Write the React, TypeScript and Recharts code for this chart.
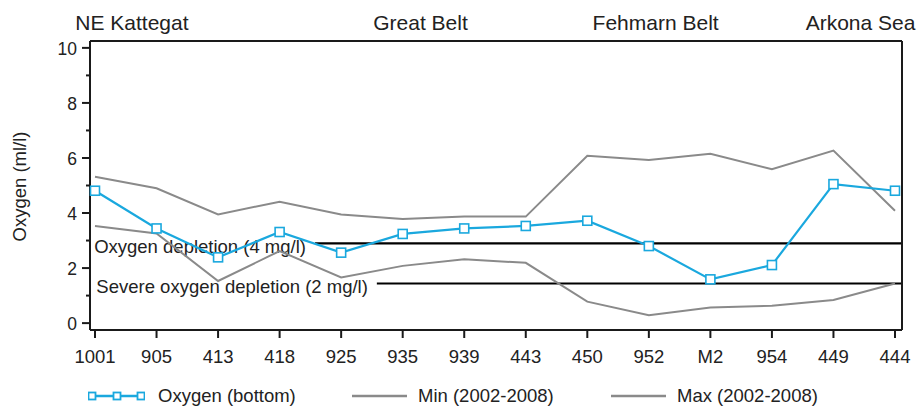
import React from "react"
import {
  LineChart,
  Line,
  XAxis,
  YAxis,
  ReferenceLine,
  Legend,
} from "recharts"

// Bottom oxygen along the transect, with the 2002-2008 min / max envelope

const stations = ["1001", "905", "413", "418", "925", "935", "939", "443", "450", "952", "M2", "954", "449", "444"]
const oxygenBottom = [4.81, 3.44, 2.39, 3.31, 2.56, 3.24, 3.44, 3.53, 3.72, 2.8, 1.59, 2.11, 5.05, 4.81]
const minOxygen = [3.53, 3.26, 1.53, 2.62, 1.66, 2.08, 2.32, 2.19, 0.78, 0.29, 0.57, 0.63, 0.84, 1.44]
const maxOxygen = [5.32, 4.9, 3.95, 4.41, 3.95, 3.78, 3.87, 3.87, 6.08, 5.93, 6.15, 5.59, 6.27, 4.08]

// region names, placed by station index along the transect
const regionNames = ["NE Kattegat", "Great Belt", "Fehmarn Belt", "Arkona Sea"]
const regionPositions = [0.6, 5.29, 9.11, 12.44]

const depletionLabels = ["Oxygen depletion (4 mg/l)", "Severe oxygen depletion (2 mg/l)"]
const depletionValues = [2.9, 1.44]

const yTicks = [0, 1, 2, 3, 4, 5, 6, 7, 8, 9, 10]

const seriesNames = ["Oxygen (bottom)", "Min (2002-2008)", "Max (2002-2008)"]

const data = stations.map((station, i) => ({
  station,
  oxygen: oxygenBottom[i],
  min: minOxygen[i],
  max: maxOxygen[i],
}))

const FONT = "'Liberation Sans', Arial, Helvetica, sans-serif"
const BLUE = "#1aa8de"
const GRAY = "#8a8a8a"
const INK = "#1a1a1a"

// where each threshold line starts (in station index units), leaving room for its label
const lineStarts = [3.575, 4.58]
const lineEnd = 13.11

const SquareDot = (props: any) => {
  const { cx, cy } = props
  if (cx == null || cy == null) return null
  return (
    <rect x={cx - 4.5} y={cy - 4.5} width={9} height={9} fill="#fff" stroke={BLUE} strokeWidth={1.6} />
  )
}

const YTick = (props: any) => {
  const { x, y, payload } = props
  const major = payload.value % 2 === 0
  const axisX = x + 12
  return (
    <g>
      <line x1={axisX - (major ? 8 : 4)} x2={axisX} y1={y} y2={y} stroke={INK} strokeWidth={2} />
      {major && (
        <text x={x - 1} y={y} dy="0.42em" textAnchor="end" fontSize={17.5} fill="#222" fontFamily={FONT}>
          {payload.value}
        </text>
      )}
    </g>
  )
}

const XTick = (props: any) => {
  const { x, y, payload } = props
  return (
    <g>
      <line x1={x} x2={x} y1={y - 16} y2={y - 8} stroke={INK} strokeWidth={2} />
      <text x={x} y={y} dy="0.9em" textAnchor="middle" fontSize={18.5} fill="#222" fontFamily={FONT}>
        {payload.value}
      </text>
    </g>
  )
}

const RegionTick = (props: any) => {
  const { x, y, index } = props
  return (
    <text x={x} y={y - 11} textAnchor="middle" fontSize={21} fill="#222" fontFamily={FONT}>
      {regionNames[index]}
    </text>
  )
}

const YLabel = (props: any) => {
  const { viewBox } = props
  const cx = viewBox.x - 11
  const cy = viewBox.y + viewBox.height / 2 + 1
  return (
    <text
      x={cx}
      y={cy}
      transform={`rotate(-90, ${cx}, ${cy})`}
      textAnchor="middle"
      dominantBaseline="central"
      fontSize={18.5}
      fill="#222"
      fontFamily={FONT}
    >
      Oxygen (ml/l)
    </text>
  )
}

const thresholdLabel = (text: string) => (props: any) => {
  const { viewBox } = props
  return (
    <text
      x={viewBox.x - 9}
      y={viewBox.y + 3}
      textAnchor="end"
      dominantBaseline="central"
      fontSize={18.5}
      fill="#222"
      fontFamily={FONT}
    >
      {text}
    </text>
  )
}

const legendLeft = [88, 351, 610]

const LegendContent = () => (
  <div style={{ position: "relative", width: 920, height: 24, fontFamily: FONT, fontSize: 18.5, color: "#222" }}>
    {seriesNames.map((name, i) => (
      <div
        key={name}
        style={{ position: "absolute", left: legendLeft[i], top: 0, height: 24, display: "flex", alignItems: "center" }}
      >
        <svg width={57} height={24} style={{ display: "block" }}>
          <line x1={1} x2={56} y1={12} y2={12} stroke={i === 0 ? BLUE : GRAY} strokeWidth={2.5} />
          {i === 0 &&
            [4, 29, 53].map((cx) => (
              <rect key={cx} x={cx - 3.5} y={8.5} width={7} height={7} fill="#fff" stroke={BLUE} strokeWidth={1.8} />
            ))}
        </svg>
        <span style={{ marginLeft: i === 0 ? 13 : 10, whiteSpace: "nowrap" }}>{name}</span>
      </div>
    ))}
  </div>
)

export default function App() {
  return (
    <div style={{ position: "absolute", left: 0, top: 0, width: 920, height: 408, background: "#fff" }}>
      <LineChart width={920} height={408} data={data} margin={{ top: 40, right: 17, bottom: 0, left: 30 }}>
        <XAxis
          dataKey="station"
          height={54}
          padding={{ left: 5, right: 7 }}
          interval={0}
          axisLine={{ stroke: INK, strokeWidth: 2 }}
          tickLine={false}
          tickSize={8}
          tickMargin={8}
          tick={<XTick />}
        />
        <XAxis
          xAxisId="top"
          orientation="top"
          type="number"
          domain={[0, stations.length - 1]}
          allowDataOverflow
          height={1}
          padding={{ left: 5, right: 7 }}
          ticks={regionPositions}
          interval={0}
          tickSize={0}
          tickMargin={0}
          tickLine={false}
          axisLine={{ stroke: INK, strokeWidth: 2 }}
          tick={<RegionTick />}
        />
        <YAxis
          width={60}
          domain={[-0.25, 10.25]}
          ticks={yTicks}
          interval={0}
          allowDataOverflow
          tickLine={false}
          tickSize={8}
          tickMargin={4}
          axisLine={{ stroke: INK, strokeWidth: 2 }}
          tick={<YTick />}
          label={<YLabel />}
        />
        <YAxis
          yAxisId="right"
          orientation="right"
          width={1}
          domain={[0, 10]}
          tick={false}
          tickLine={false}
          axisLine={{ stroke: INK, strokeWidth: 2 }}
        />
        {depletionValues.map((v, i) => (
          <ReferenceLine
            key={depletionLabels[i]}
            xAxisId="top"
            ifOverflow="visible"
            segment={[
              { x: lineStarts[i], y: v },
              { x: lineEnd, y: v },
            ]}
            stroke="#000"
            strokeWidth={2.2}
            label={thresholdLabel(depletionLabels[i])}
          />
        ))}
        <Line
          dataKey="min"
          name={seriesNames[1]}
          stroke={GRAY}
          strokeWidth={2}
          dot={false}
          activeDot={false}
          isAnimationActive={false}
        />
        <Line
          dataKey="max"
          name={seriesNames[2]}
          stroke={GRAY}
          strokeWidth={2}
          dot={false}
          activeDot={false}
          isAnimationActive={false}
        />
        <Line
          dataKey="oxygen"
          name={seriesNames[0]}
          stroke={BLUE}
          strokeWidth={2.2}
          dot={<SquareDot />}
          activeDot={false}
          isAnimationActive={false}
        />
        <Legend
          verticalAlign="bottom"
          content={<LegendContent />}
          wrapperStyle={{ left: 0, bottom: 0, width: 920, height: 24 }}
        />
      </LineChart>
    </div>
  )
}
